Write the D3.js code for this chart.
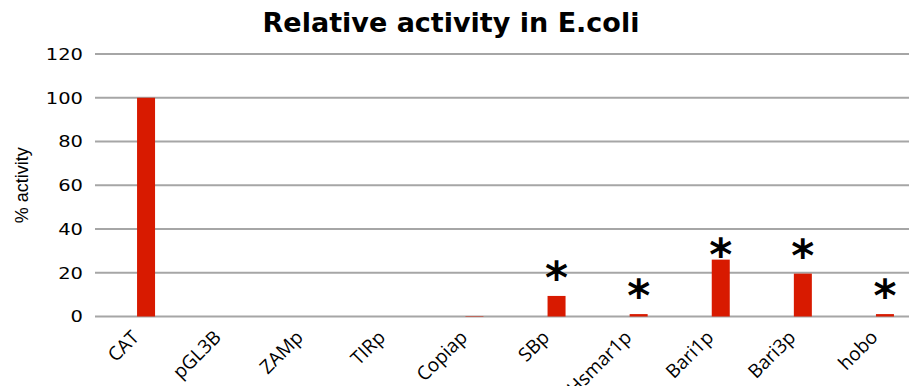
<!DOCTYPE html>
<html>
<head>
<meta charset="utf-8">
<script src="https://cdn.jsdelivr.net/npm/d3@7/dist/d3.min.js"></script>
<style>
  html, body { margin: 0; padding: 0; background: #fff; }
  svg { display: block; }
</style>
</head>
<body>
<svg id="chart" width="909" height="386"></svg>
<script>
// Promoter activity, % of CAT
const categories = ["CAT", "pGL3B", "ZAMp", "TIRp", "Copiap", "SBp", "Hsmar1p", "Bari1p", "Bari3p", "hobo"];
const activity   = [100, 0, 0, 0, 0.2, 9.4, 1.1, 26, 19.6, 1.1];
const significant = [false, false, false, false, false, true, true, true, true, true];
const yTicks = [0, 20, 40, 60, 80, 100, 120];

const svg = d3.select("#chart");

const gridLeft = 95, gridRight = 909;
const x = d3.scaleBand().domain(categories).range([105, 926]);
const y = d3.scaleLinear().domain([0, 120]).range([316.5, 54]);
const barW = 18;
const cx = d => x(d) + x.bandwidth() / 2;

// title
svg.append("text")
  .attr("x", 451).attr("y", 32)
  .attr("text-anchor", "middle")
  .attr("font-family", "'DejaVu Sans', sans-serif")
  .attr("font-weight", "bold")
  .attr("font-size", 27)
  .attr("fill", "#000")
  .text("Relative activity in E.coli");

// gridlines
svg.append("g").selectAll("line").data(yTicks).join("line")
  .attr("x1", gridLeft).attr("x2", gridRight)
  .attr("y1", d => y(d)).attr("y2", d => y(d))
  .attr("stroke", "#a6a6a6").attr("stroke-width", 2);

// y axis tick labels
const yAxis = d3.axisLeft(y).tickValues(yTicks).tickSize(0).tickPadding(0);
const gy = svg.append("g").attr("transform", `translate(${gridLeft - 12},0)`).call(yAxis);
gy.select(".domain").remove();
gy.selectAll("text")
  .attr("font-family", "'DejaVu Sans', sans-serif")
  .attr("font-size", 16.5)
  .attr("fill", "#000")
  .attr("text-anchor", "end")
  .style("transform-box", "fill-box")
  .style("transform-origin", "right center")
  .style("transform", "scaleX(1.18)");

// y axis title
svg.append("text")
  .attr("transform", `translate(28,${y(60)}) rotate(-90)`)
  .attr("text-anchor", "middle")
  .attr("font-family", "'Liberation Sans Narrow', 'Liberation Sans', Arial, sans-serif")
  .attr("font-size", 18)
  .attr("fill", "#000")
  .text("% activity");

// bars
svg.append("g").selectAll("rect").data(categories).join("rect")
  .attr("x", d => cx(d) - barW / 2)
  .attr("width", barW)
  .attr("y", (d, i) => y(activity[i]))
  .attr("height", (d, i) => y(0) - y(activity[i]))
  .attr("fill", "#d81a00");

// x axis labels, rotated
svg.append("g").selectAll("text").data(categories).join("text")
  .attr("transform", d => `translate(${cx(d) - 6},${y(0) + 22}) rotate(-45)`)
  .attr("text-anchor", "end")
  .attr("font-family", "'Open Sans', 'Liberation Sans', sans-serif")
  .attr("font-size", 19)
  .attr("fill", "#000")
  .text(d => d);

// significance markers
svg.append("g").selectAll("text")
  .data(categories.filter((d, i) => significant[i]))
  .join("text")
  .attr("x", d => cx(d))
  .attr("y", d => {
    const v = activity[categories.indexOf(d)];
    return Math.max(y(v) - 24, y(31));
  })
  .attr("dy", "0.48em")
  .attr("text-anchor", "middle")
  .attr("font-family", "'DejaVu Sans', sans-serif")
  .attr("font-weight", "bold")
  .attr("font-size", 44)
  .attr("fill", "#000")
  .text("*");
</script>
</body>
</html>
